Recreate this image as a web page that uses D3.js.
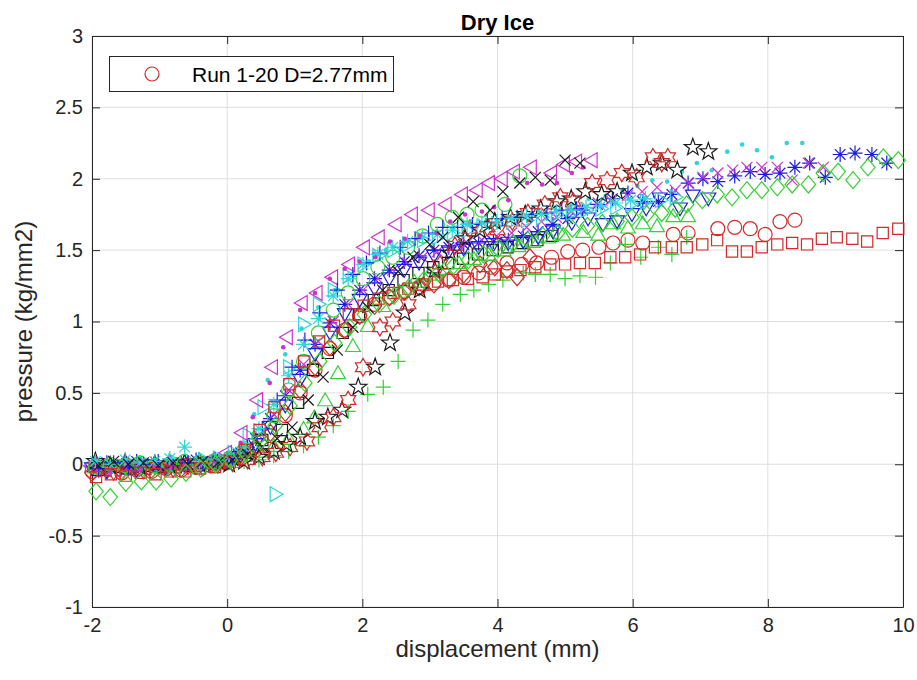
<!DOCTYPE html>
<html>
<head>
<meta charset="utf-8">
<script src="https://cdn.jsdelivr.net/npm/d3@7"></script>
<style>
  body { margin: 0; background: #fff; }
  svg { display: block; font-family: "Liberation Sans", Arial, Helvetica, sans-serif; }
</style>
</head>
<body>
<svg id="chart" width="917" height="680"></svg>
<script>
// ---- data: displacement (mm), pressure (kg/mm2), one array per run ----
const run01 = [[-2.00,-0.05],[-1.78,-0.03],[-1.56,-0.06],[-1.34,-0.04],[-1.12,-0.05],[-0.90,-0.03],[-0.68,-0.04],[-0.46,-0.02],[-0.24,-0.01],[-0.02,0.01],[0.20,0.04],[0.42,0.10],[0.64,0.20],[0.86,0.34],[1.08,0.50],[1.30,0.66],[1.52,0.81],[1.74,0.94],[1.96,1.04],[2.18,1.12],[2.40,1.17],[2.62,1.21],[2.84,1.24],[3.06,1.27],[3.28,1.29],[3.50,1.31],[3.72,1.34],[3.90,1.38],[4.14,1.41],[4.36,1.40],[4.58,1.41],[4.80,1.45],[5.04,1.49],[5.26,1.50],[5.50,1.52],[5.71,1.55],[5.93,1.57],[6.15,1.55],[6.60,1.61],[6.82,1.62],[7.26,1.65],[7.51,1.66],[7.74,1.65],[7.96,1.61],[8.18,1.70],[8.40,1.71]];
const run02 = [[-1.95,-0.02],[-1.73,-0.04],[-1.51,-0.01],[-1.29,-0.03],[-1.07,-0.02],[-0.85,0.00],[-0.63,-0.02],[-0.41,0.00],[-0.19,-0.01],[0.03,0.01],[0.25,0.02],[0.47,0.03],[0.69,0.06],[0.91,0.09],[1.13,0.13],[1.35,0.19],[1.57,0.27],[1.79,0.37],[2.08,0.49],[2.31,0.54],[2.53,0.72],[2.75,0.94],[2.97,1.01],[3.19,1.12],[3.45,1.19],[3.65,1.22],[3.87,1.26],[4.08,1.29],[4.38,1.34],[4.56,1.33],[4.78,1.33],[5.00,1.30],[5.22,1.32],[5.45,1.31],[5.67,1.41],[5.89,1.54],[6.12,1.45],[6.38,1.52],[6.58,1.47],[6.80,1.59]];
const run03 = [[-2.00,-0.02],[-1.78,0.01],[-1.56,-0.01],[-1.34,0.02],[-1.12,0.00],[-0.90,-0.02],[-0.68,0.01],[-0.46,0.03],[-0.24,0.01],[-0.02,0.03],[0.20,0.08],[0.42,0.18],[0.64,0.32],[0.86,0.48],[1.08,0.66],[1.30,0.84],[1.52,0.99],[1.74,1.12],[1.96,1.22],[2.18,1.30],[2.40,1.36],[2.62,1.42],[2.84,1.46],[3.06,1.50],[3.28,1.52],[3.50,1.54],[3.72,1.55],[3.94,1.56],[4.16,1.57],[4.38,1.60],[4.60,1.63],[4.82,1.68],[5.04,1.72],[5.26,1.78],[5.48,1.82],[5.70,1.86],[5.93,1.90],[6.15,1.84],[6.38,1.84],[6.58,1.89],[6.82,1.97],[7.04,2.00],[7.26,1.98],[7.51,2.02],[7.74,2.05],[7.96,2.03],[8.18,2.04],[8.40,2.08],[8.62,2.11],[8.85,2.01],[9.07,2.17],[9.29,2.18],[9.54,2.17],[9.76,2.11]];
const run04 = [[-2.00,0.01],[-1.78,-0.01],[-1.56,0.02],[-1.34,0.00],[-1.12,0.01],[-0.90,-0.01],[-0.68,0.02],[-0.46,0.01],[-0.24,0.03],[-0.02,0.05],[0.20,0.12],[0.40,0.35],[0.60,0.59],[0.86,0.77],[1.10,0.95],[1.35,1.10],[1.60,1.22],[1.85,1.33],[2.10,1.42],[2.35,1.50],[2.60,1.55],[2.85,1.60],[3.10,1.63],[3.35,1.66],[3.60,1.68],[3.85,1.70],[4.10,1.73],[4.35,1.75],[4.60,1.78],[4.85,1.80],[5.10,1.82],[5.35,1.86],[5.60,1.88],[5.85,1.92],[6.07,1.95],[6.29,1.99],[6.51,1.98],[6.73,2.05],[6.95,2.11],[7.17,2.06],[7.40,2.19],[7.62,2.24],[7.84,2.20],[8.06,2.15],[8.28,2.25],[8.51,2.25]];
const run05 = [[-1.95,-0.05],[-1.73,-0.03],[-1.51,-0.04],[-1.29,-0.02],[-1.07,-0.03],[-0.85,-0.01],[-0.63,-0.02],[-0.41,0.00],[-0.19,0.01],[0.03,0.03],[0.25,0.09],[0.47,0.20],[0.69,0.35],[0.91,0.52],[1.13,0.70],[1.35,0.86],[1.57,1.00],[1.79,1.12],[2.01,1.22],[2.23,1.30],[2.45,1.36],[2.67,1.41],[2.89,1.45],[3.11,1.49],[3.33,1.52],[3.55,1.55],[3.77,1.57],[3.99,1.60],[4.21,1.62],[4.43,1.66],[4.65,1.70],[4.87,1.73],[5.09,1.77],[5.31,1.80],[5.49,1.83],[5.67,1.85],[5.92,1.88],[6.14,1.91],[6.36,1.94],[6.63,1.92],[6.83,1.97],[7.04,2.01],[7.26,2.04],[7.48,2.06],[7.69,2.08],[7.91,2.08],[8.14,2.08],[8.36,1.99],[8.60,2.11],[8.82,2.08]];
const run06 = [[-1.90,-0.04],[-1.68,-0.02],[-1.46,-0.03],[-1.24,-0.01],[-1.02,-0.02],[-0.80,0.00],[-0.58,-0.01],[-0.36,0.01],[-0.14,0.02],[0.08,0.05],[0.30,0.10],[0.52,0.17],[0.81,0.24],[1.05,0.43],[1.27,0.66],[1.49,0.78],[1.71,0.92],[1.95,1.05],[2.17,1.15],[2.39,1.22],[2.61,1.29],[2.83,1.34],[3.05,1.38],[3.27,1.41],[3.49,1.44],[3.71,1.47],[3.93,1.50],[4.15,1.52],[4.37,1.55],[4.59,1.57],[4.81,1.60]];
const run07 = [[-2.00,-0.06],[-1.78,-0.04],[-1.56,-0.05],[-1.34,-0.03],[-1.12,-0.04],[-0.90,-0.02],[-0.68,-0.03],[-0.46,-0.01],[-0.24,0.00],[-0.02,0.02],[0.20,0.05],[0.42,0.12],[0.64,0.22],[0.86,0.36],[1.08,0.52],[1.30,0.68],[1.52,0.82],[1.74,0.94],[1.96,1.04],[2.18,1.11],[2.40,1.17],[2.62,1.21],[2.84,1.24],[3.06,1.26],[3.28,1.29],[3.50,1.33],[3.74,1.40],[3.96,1.38],[4.14,1.36],[4.29,1.31],[4.48,1.45]];
const run08 = [[-1.95,-0.03],[-1.73,-0.01],[-1.51,-0.02],[-1.29,0.00],[-1.07,-0.01],[-0.85,0.01],[-0.63,0.00],[-0.41,0.02],[-0.19,0.01],[0.03,0.03],[0.25,0.05],[0.47,0.08],[0.69,0.12],[0.91,0.17],[1.13,0.24],[1.29,0.32],[1.45,0.44],[1.64,0.63],[1.86,0.82],[2.08,0.96],[2.31,1.10],[2.55,1.20],[2.77,1.27],[2.99,1.32],[3.21,1.36],[3.43,1.40],[3.65,1.43],[3.87,1.46],[4.09,1.49],[4.31,1.52],[4.53,1.55],[4.75,1.58],[4.97,1.60],[5.27,1.62],[5.49,1.60],[5.71,1.68],[5.93,1.65],[6.15,1.68],[6.36,1.66],[6.60,1.73],[6.82,1.73]];
const run09 = [[-2.00,-0.02],[-1.78,-0.04],[-1.56,-0.01],[-1.34,-0.03],[-1.12,0.00],[-0.90,-0.02],[-0.68,0.00],[-0.46,0.01],[-0.24,0.02],[-0.02,0.03],[0.20,0.07],[0.42,0.15],[0.64,0.27],[0.86,0.42],[1.08,0.60],[1.30,0.78],[1.52,0.93],[1.74,1.06],[1.96,1.16],[2.18,1.24],[2.40,1.31],[2.62,1.37],[2.84,1.42],[3.06,1.47],[3.28,1.50],[3.50,1.52],[3.72,1.53],[3.94,1.55],[4.16,1.56],[4.38,1.57],[4.60,1.60],[4.82,1.64],[5.10,1.70],[5.34,1.73],[5.56,1.69],[5.77,1.71],[5.99,1.76],[6.20,1.80],[6.40,1.87],[6.70,1.80],[6.89,1.89],[7.12,1.87]];
const run10 = [[-1.90,0.00],[-1.68,-0.02],[-1.46,0.01],[-1.24,-0.01],[-1.02,0.00],[-0.80,0.02],[-0.58,0.01],[-0.36,0.03],[-0.14,0.04],[0.08,0.08],[0.30,0.20],[0.52,0.40],[0.70,-0.21],[0.90,0.68],[1.12,0.98],[1.34,1.12],[1.56,1.22],[1.78,1.32],[2.00,1.40],[2.22,1.46],[2.44,1.50],[2.66,1.54],[2.88,1.57],[3.10,1.59],[3.32,1.62],[3.54,1.64],[3.76,1.66],[3.98,1.68],[4.20,1.70],[4.42,1.71],[4.64,1.73],[4.86,1.75],[5.08,1.76],[5.30,1.78],[5.52,1.79],[5.74,1.80],[5.96,1.82],[6.18,1.84],[6.40,1.85],[6.62,1.87]];
const run11 = [[-2.00,-0.01],[-1.78,-0.03],[-1.56,0.00],[-1.34,-0.02],[-1.12,-0.01],[-0.90,0.01],[-0.68,-0.01],[-0.46,0.01],[-0.24,0.03],[0.00,0.08],[0.23,0.22],[0.46,0.45],[0.68,0.68],[0.90,0.89],[1.12,1.13],[1.34,1.20],[1.57,1.31],[1.82,1.40],[2.04,1.52],[2.26,1.59],[2.51,1.68],[2.75,1.75],[3.00,1.78],[3.25,1.82],[3.49,1.89],[3.71,1.92],[3.89,1.97],[4.08,2.00],[4.26,2.05],[4.51,2.08],[4.81,2.04],[5.00,2.10],[5.18,2.12],[5.41,2.13]];
const run12 = [[-1.95,0.02],[-1.73,-0.01],[-1.51,0.01],[-1.29,-0.02],[-1.07,0.00],[-0.85,-0.01],[-0.63,0.01],[-0.41,0.00],[-0.19,0.01],[0.03,0.00],[0.25,0.02],[0.47,0.05],[0.69,0.09],[0.88,0.14],[1.08,0.19],[1.30,0.30],[1.49,0.33],[1.70,0.38],[1.94,0.54],[2.19,0.68],[2.41,0.85],[2.63,1.06],[2.85,1.22],[3.07,1.36],[3.30,1.48],[3.52,1.58],[3.74,1.64],[3.96,1.70],[4.19,1.73],[4.41,1.75],[4.64,1.79],[4.88,1.84],[5.09,1.86],[5.30,1.91],[5.54,1.89],[5.77,1.91],[5.99,2.04],[6.21,2.08],[6.43,2.11],[6.66,2.06],[6.89,2.22],[7.12,2.19]];
const run13 = [[-1.90,-0.03],[-1.68,-0.05],[-1.46,-0.02],[-1.24,-0.04],[-1.02,-0.02],[-0.80,-0.03],[-0.58,-0.01],[-0.36,-0.02],[-0.14,0.00],[0.08,0.01],[0.30,0.03],[0.52,0.05],[0.72,0.08],[0.93,0.12],[1.18,0.16],[1.37,0.26],[1.57,0.33],[1.79,0.45],[2.01,0.68],[2.26,0.96],[2.45,1.00],[2.68,1.12],[2.90,1.25],[3.15,1.40],[3.37,1.53],[3.59,1.65],[3.85,1.66],[4.00,1.64],[4.22,1.70],[4.45,1.76],[4.70,1.82],[4.93,1.87],[5.12,1.84],[5.40,1.97],[5.62,1.99],[5.84,2.04],[6.06,2.01],[6.30,2.15],[6.43,2.11],[6.52,2.15]];
const run14 = [[-1.95,-0.02],[-1.73,0.00],[-1.51,-0.01],[-1.29,0.01],[-1.07,-0.01],[-0.85,0.00],[-0.63,0.02],[-0.41,0.01],[-0.19,0.02],[0.03,0.04],[0.25,0.10],[0.47,0.20],[0.69,0.34],[0.91,0.52],[1.13,0.72],[1.35,0.92],[1.57,1.08],[1.79,1.20],[2.01,1.30],[2.23,1.38],[2.45,1.45],[2.67,1.52],[2.89,1.60],[3.11,1.68],[3.33,1.73],[3.55,1.75],[3.77,1.78],[4.11,1.82],[4.33,2.02]];
const run15 = [[-1.90,-0.03],[-1.68,0.01],[-1.46,-0.02],[-1.24,0.00],[-1.02,0.02],[-0.80,-0.01],[-0.58,0.01],[-0.36,0.00],[-0.14,0.02],[0.08,0.04],[0.30,0.12],[0.52,0.25],[0.74,0.45],[0.96,0.68],[1.15,0.87],[1.37,1.06],[1.63,1.22],[1.86,1.33],[2.06,1.41],[2.26,1.48],[2.56,1.52],[2.78,1.58],[2.98,1.62],[3.19,1.66],[3.41,1.66],[3.63,1.68],[3.85,1.70],[4.07,1.72],[4.29,1.73],[4.51,1.75],[4.73,1.76],[4.95,1.78],[5.17,1.79]];
const run16 = [[-1.95,0.02],[-1.73,0.00],[-1.51,0.03],[-1.29,0.01],[-1.07,0.02],[-0.85,0.04],[-0.63,0.12],[-0.41,0.02],[-0.19,0.03],[0.03,0.05],[0.25,0.12],[0.47,0.25],[0.69,0.42],[0.91,0.62],[1.13,0.84],[1.35,1.02],[1.57,1.18],[1.79,1.30],[2.01,1.40],[2.23,1.47],[2.45,1.52],[2.67,1.56],[2.89,1.59],[3.11,1.61],[3.33,1.64],[3.55,1.68],[3.77,1.69],[3.99,1.70],[4.21,1.72],[4.43,1.74],[4.65,1.75],[4.87,1.77],[5.09,1.78],[5.31,1.80],[5.53,1.81],[5.75,1.83],[5.97,1.85],[6.19,1.86]];
const run17 = [[-1.95,-0.04],[-1.73,-0.05],[-1.51,-0.03],[-1.29,-0.04],[-1.07,-0.02],[-0.85,-0.03],[-0.63,-0.01],[-0.41,0.00],[-0.19,0.02],[0.03,0.05],[0.20,0.15],[0.38,0.33],[0.63,0.57],[0.83,0.82],[1.08,1.08],[1.30,1.20],[1.52,1.30],[1.74,1.37],[1.96,1.42],[2.19,1.45],[2.41,1.56],[2.63,1.58],[2.85,1.60],[3.10,1.62],[3.30,1.70],[3.52,1.75],[3.77,1.77],[3.95,1.80],[4.16,1.85],[4.44,1.97],[4.66,1.96],[4.88,1.97],[5.10,2.04],[5.27,2.08]];
const run18 = [[-1.90,-0.01],[-1.68,0.02],[-1.46,0.00],[-1.24,0.01],[-1.02,-0.01],[-0.80,0.01],[-0.58,0.00],[-0.36,0.02],[-0.14,0.01],[0.08,0.03],[0.30,0.07],[0.52,0.12],[0.74,0.18],[0.96,0.26],[1.20,0.45],[1.42,0.61],[1.63,0.80],[1.86,0.96],[2.08,1.10],[2.30,1.22],[2.53,1.35],[2.75,1.45],[3.00,1.54],[3.19,1.59],[3.42,1.73],[3.64,1.84],[3.89,1.78],[4.08,1.91],[4.33,1.97],[4.56,2.01],[4.78,1.99],[5.00,2.13],[5.22,2.11]];
const run19 = [[-1.94,-0.09],[-1.72,-0.07],[-1.50,-0.08],[-1.28,-0.06],[-1.06,-0.07],[-0.84,-0.05],[-0.62,-0.05],[-0.40,-0.03],[-0.18,-0.02],[0.04,0.02],[0.26,0.10],[0.48,0.24],[0.70,0.40],[0.92,0.56],[1.14,0.72],[1.36,0.86],[1.58,0.97],[1.80,1.05],[2.02,1.11],[2.24,1.16],[2.46,1.20],[2.68,1.23],[2.90,1.26],[3.12,1.28],[3.34,1.29],[3.56,1.30],[3.78,1.31],[3.96,1.33],[4.14,1.35],[4.34,1.36],[4.56,1.38],[4.78,1.40],[5.00,1.40],[5.22,1.41],[5.44,1.41],[5.67,1.45],[5.89,1.45],[6.11,1.47],[6.33,1.52],[6.58,1.52],[6.80,1.52],[7.03,1.54],[7.25,1.57],[7.47,1.49],[7.69,1.49],[7.91,1.52],[8.14,1.54],[8.36,1.55],[8.58,1.54],[8.80,1.58],[9.02,1.59],[9.25,1.58],[9.47,1.56],[9.70,1.62],[9.93,1.65]];
const run20 = [[-1.94,-0.19],[-1.73,-0.23],[-1.50,-0.13],[-1.27,-0.12],[-1.05,-0.12],[-0.83,-0.10],[-0.61,-0.06],[-0.39,-0.03],[-0.17,0.00],[0.05,0.03],[0.27,0.08],[0.49,0.16],[0.71,0.27],[0.93,0.41],[1.15,0.57],[1.37,0.72],[1.59,0.85],[1.81,0.96],[2.03,1.05],[2.25,1.12],[2.47,1.18],[2.69,1.24],[2.91,1.29],[3.13,1.34],[3.35,1.39],[3.57,1.43],[3.79,1.47],[4.01,1.51],[4.23,1.55],[4.45,1.57],[4.67,1.60],[4.89,1.62],[5.11,1.65],[5.33,1.67],[5.55,1.69],[5.77,1.70],[5.99,1.73],[6.21,1.75],[6.43,1.76],[6.63,1.79],[6.80,1.82],[7.03,1.85],[7.25,1.89],[7.47,1.87],[7.69,1.92],[7.91,1.92],[8.14,1.94],[8.36,1.96],[8.60,1.96],[8.82,2.04],[9.04,2.05],[9.26,1.99],[9.48,2.08],[9.71,2.15],[9.93,2.13]];

const runs = [run01, run02, run03, run04, run05, run06, run07, run08, run09, run10,
              run11, run12, run13, run14, run15, run16, run17, run18, run19, run20];

const xTicks = [-2, 0, 2, 4, 6, 8, 10];
const yTicks = [-1, -0.5, 0, 0.5, 1, 1.5, 2, 2.5, 3];
const titleText = "Dry Ice";
const xLabelText = "displacement (mm)";
const yLabelText = "pressure (kg/mm2)";
const legendText = "Run 1-20 D=2.77mm";

// ---- styling: markers and colours cycle run by run ----
const markerCycle = ["o", "+", "*", ".", "x", "s", "d", "^", "v", ">", "<", "p", "h"];
const colorCycle = ["#d42a2a", "#33d133", "#1c1ce0", "#2ed6d6", "#cc33cc", "#1a1a1a"];
const axisColor = "#262626";
const gridColor = "#dfdfdf";

const W = 917, H = 680;
const plot = { left: 92, right: 903, top: 36, bottom: 607 };

const svg = d3.select("#chart");
const x = d3.scaleLinear().domain([-2, 10]).range([plot.left, plot.right]);
const y = d3.scaleLinear().domain([-1, 3]).range([plot.bottom, plot.top]);

// grid
const grid = svg.append("g");
grid.selectAll("line.gx").data(xTicks).join("line")
  .attr("x1", d => x(d)).attr("x2", d => x(d))
  .attr("y1", plot.top).attr("y2", plot.bottom)
  .attr("stroke", gridColor).attr("stroke-width", 1);
grid.selectAll("line.gy").data(yTicks).join("line")
  .attr("x1", plot.left).attr("x2", plot.right)
  .attr("y1", d => y(d)).attr("y2", d => y(d))
  .attr("stroke", gridColor).attr("stroke-width", 1);

// axes: labelled bottom/left, tick-only top/right, ticks pointing inward
const fmt = d => String(d);
function styleAxis(g) {
  g.select(".domain").attr("stroke", axisColor).attr("stroke-width", 1);
  g.selectAll(".tick line").attr("stroke", axisColor).attr("stroke-width", 1);
  g.selectAll(".tick text").attr("fill", axisColor)
    .style("font-size", "20px").style("font-family", "'Liberation Sans', Arial, Helvetica, sans-serif");
}
svg.append("g").attr("transform", `translate(0,${plot.bottom})`)
  .call(d3.axisBottom(x).tickValues(xTicks).tickFormat(fmt).tickSizeInner(-8).tickSizeOuter(0).tickPadding(11))
  .call(styleAxis);
svg.append("g").attr("transform", `translate(${plot.left},0)`)
  .call(d3.axisLeft(y).tickValues(yTicks).tickFormat(fmt).tickSizeInner(-8).tickSizeOuter(0).tickPadding(9))
  .call(styleAxis);
svg.append("g").attr("transform", `translate(0,${plot.top})`)
  .call(d3.axisTop(x).tickValues(xTicks).tickFormat("").tickSizeInner(-8).tickSizeOuter(0))
  .call(styleAxis);
svg.append("g").attr("transform", `translate(${plot.right},0)`)
  .call(d3.axisRight(y).tickValues(yTicks).tickFormat("").tickSizeInner(-8).tickSizeOuter(0))
  .call(styleAxis);

// marker shapes, centred on the origin
function starPath(n, ro, ri, rot) {
  let p = "";
  for (let i = 0; i < 2 * n; i++) {
    const r = i % 2 === 0 ? ro : ri;
    const a = rot + i * Math.PI / n;
    p += (i === 0 ? "M" : "L") + (r * Math.cos(a)).toFixed(2) + "," + (r * Math.sin(a)).toFixed(2);
  }
  return p + "Z";
}
const shapes = {
  "o": "M7,0A7,7 0 1,1 -7,0A7,7 0 1,1 7,0Z",
  "+": "M-7.5,0H7.5M0,-7.5V7.5",
  "*": "M-7.5,0H7.5M0,-7.5V7.5M-5.3,-5.3L5.3,5.3M-5.3,5.3L5.3,-5.3",
  ".": "M2.3,0A2.3,2.3 0 1,1 -2.3,0A2.3,2.3 0 1,1 2.3,0Z",
  "x": "M-5.5,-5.5L5.5,5.5M-5.5,5.5L5.5,-5.5",
  "s": "M-5.6,-5.6H5.6V5.6H-5.6Z",
  "d": "M0,-8.5L7.2,0L0,8.5L-7.2,0Z",
  "^": "M0,-8.5L7.4,4.3L-7.4,4.3Z",
  "v": "M0,8.5L7.4,-4.3L-7.4,-4.3Z",
  ">": "M8.5,0L-4.3,-7.4L-4.3,7.4Z",
  "<": "M-8.5,0L4.3,-7.4L4.3,7.4Z",
  "p": starPath(5, 9, 3.6, -Math.PI / 2),
  "h": starPath(6, 8.8, 5.1, -Math.PI / 2)
};

// data markers
const marks = svg.append("g");
runs.forEach((run, i) => {
  const m = markerCycle[i % markerCycle.length];
  const c = colorCycle[i % colorCycle.length];
  const filled = m === ".";
  marks.append("g").selectAll("path").data(run).join("path")
    .attr("transform", d => `translate(${x(d[0]).toFixed(2)},${y(d[1]).toFixed(2)})`)
    .attr("d", shapes[m])
    .attr("fill", filled ? c : "none")
    .attr("stroke", filled ? "none" : c)
    .attr("stroke-width", 1.2);
});

// title and axis labels
svg.append("text").attr("x", (plot.left + plot.right) / 2).attr("y", 30)
  .attr("text-anchor", "middle").style("font-size", "22px").style("font-weight", "bold")
  .attr("fill", "#000").text(titleText);
svg.append("text").attr("x", (plot.left + plot.right) / 2).attr("y", 657)
  .attr("text-anchor", "middle").style("font-size", "24px")
  .attr("fill", axisColor).text(xLabelText);
svg.append("text")
  .attr("transform", `translate(32,${(plot.top + plot.bottom) / 2}) rotate(-90)`)
  .attr("text-anchor", "middle").style("font-size", "24px")
  .attr("fill", axisColor).text(yLabelText);

// legend
const lg = svg.append("g");
lg.append("rect").attr("x", 109.5).attr("y", 56.5).attr("width", 284).attr("height", 35)
  .attr("fill", "#fff").attr("stroke", axisColor).attr("stroke-width", 1);
lg.append("path").attr("transform", "translate(152,74)").attr("d", shapes[markerCycle[0]])
  .attr("fill", "none").attr("stroke", colorCycle[0]).attr("stroke-width", 1.2);
lg.append("text").attr("x", 192).attr("y", 81.5).style("font-size", "21px")
  .attr("fill", "#000").text(legendText);
</script>
</body>
</html>
